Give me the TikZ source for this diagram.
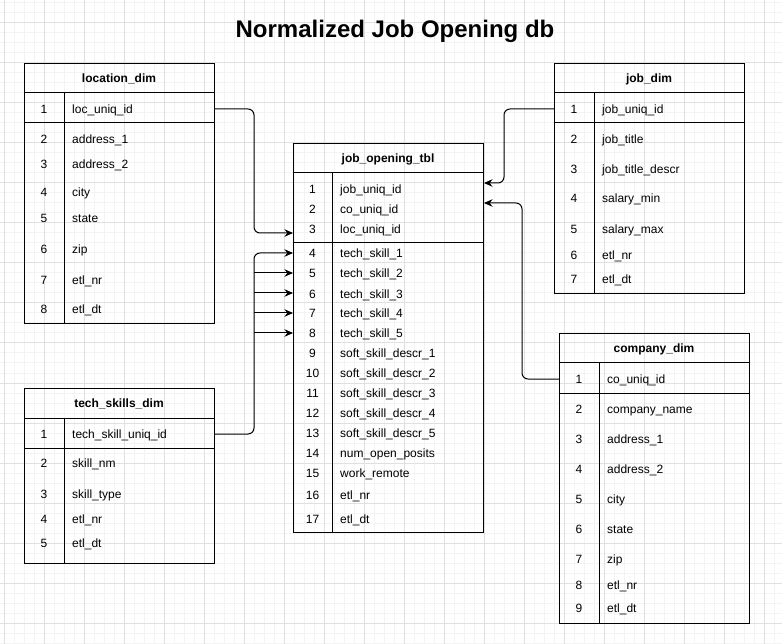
\documentclass[tikz,border=0pt]{standalone}
\usepackage{fontspec}
\setmainfont{Liberation Sans}
\usetikzlibrary{arrows.meta}
\definecolor{gridminor}{HTML}{F3F3F3}
\definecolor{gridmajor}{HTML}{E0E0E0}
\tikzset{
  tblframe/.style={draw=black, line width=1pt, inner sep=0pt, anchor=north west},
  tblline/.style={draw=black, line width=1pt},
  hdrtext/.style={font=\bfseries\fontsize{12}{14}\selectfont, inner sep=0pt, text height=8.6pt, text depth=0pt},
  numtext/.style={font=\fontsize{12}{14}\selectfont, inner sep=0pt, text height=8.6pt, text depth=0pt},
  fldtext/.style={numtext, anchor=west},
  conn/.style={draw=black, line width=1pt, rounded corners=6pt},
  arr/.style={-{Stealth[length=8.5pt,width=7.5pt]}},
  titletext/.style={font=\bfseries\fontsize{24}{28}\selectfont, inner sep=0pt, text height=17.2pt, text depth=0pt},
  gridmin/.style={draw=gridminor, line width=1pt},
  gridmaj/.style={draw=gridmajor, line width=1pt}
}
\begin{document}
\begin{tikzpicture}[x=1pt,y=-1pt]
\useasboundingbox (0,0) rectangle (782,644);
% grid
\foreach \x in {4,14,...,784} \draw[gridmin] (\x,0) -- (\x,644);
\foreach \y in {3,13,...,643} \draw[gridmin] (0,\y) -- (782,\y);
\foreach \x in {4,44,...,764} \draw[gridmaj] (\x,0) -- (\x,644);
\foreach \y in {23,63,...,623} \draw[gridmaj] (0,\y) -- (782,\y);

% title
\node[titletext] (title) at (395,29) {Normalized Job Opening db};

% location_dim
\node[tblframe, minimum width=190pt, minimum height=260pt] (loc) at (24,63) {};
\draw[tblline] (24,93) -- (214,93) (24,123) -- (214,123) (64,93) -- (64,323);
\node[hdrtext] (loc-h) at (119,78) {location\_dim};
\foreach \i/\y/\t in {1/109/loc\_uniq\_id, 2/139/address\_1, 3/164/address\_2, 4/192/city, 5/218/state, 6/249/zip, 7/280/etl\_nr, 8/309/etl\_dt} {
  \node[numtext] (loc-n\i) at (44,\y) {\i};
  \node[fldtext] (loc-f\i) at (72,\y) {\t};
}

% job_dim
\node[tblframe, minimum width=190pt, minimum height=230pt] (jd) at (554,63) {};
\draw[tblline] (554,93) -- (744,93) (554,123) -- (744,123) (594,93) -- (594,293);
\node[hdrtext] (jd-h) at (649,78) {job\_dim};
\foreach \i/\y/\t in {1/109/job\_uniq\_id, 2/139/job\_title, 3/169/job\_title\_descr, 4/198/salary\_min, 5/229/salary\_max, 6/255/etl\_nr, 7/279/etl\_dt} {
  \node[numtext] (jd-n\i) at (574,\y) {\i};
  \node[fldtext] (jd-f\i) at (602,\y) {\t};
}

% job_opening_tbl
\node[tblframe, minimum width=190pt, minimum height=389pt] (jo) at (293,143) {};
\draw[tblline] (293,173) -- (483,173) (293,243) -- (483,243) (332,173) -- (332,532);
\node[hdrtext] (jo-h) at (388,158) {job\_opening\_tbl};
\foreach \i/\y/\t in {1/189/job\_uniq\_id, 2/209/co\_uniq\_id, 3/229/loc\_uniq\_id, 4/253/tech\_skill\_1, 5/273/tech\_skill\_2, 6/294/tech\_skill\_3, 7/313/tech\_skill\_4, 8/333/tech\_skill\_5, 9/353/soft\_skill\_descr\_1, 10/373/soft\_skill\_descr\_2, 11/393/soft\_skill\_descr\_3, 12/413/soft\_skill\_descr\_4, 13/433/soft\_skill\_descr\_5, 14/453/num\_open\_posits, 15/473/work\_remote, 16/495/etl\_nr, 17/519/etl\_dt} {
  \node[numtext] (jo-n\i) at (312.5,\y) {\i};
  \node[fldtext] (jo-f\i) at (340,\y) {\t};
}

% tech_skills_dim
\node[tblframe, minimum width=190pt, minimum height=175pt] (ts) at (24,388) {};
\draw[tblline] (24,418) -- (214,418) (24,448) -- (214,448) (64,418) -- (64,563);
\node[hdrtext] (ts-h) at (119,403) {tech\_skills\_dim};
\foreach \i/\y/\t in {1/434/tech\_skill\_uniq\_id, 2/463/skill\_nm, 3/494/skill\_type, 4/519/etl\_nr, 5/543/etl\_dt} {
  \node[numtext] (ts-n\i) at (44,\y) {\i};
  \node[fldtext] (ts-f\i) at (72,\y) {\t};
}

% company_dim
\node[tblframe, minimum width=190pt, minimum height=290pt] (cd) at (559,333) {};
\draw[tblline] (559,363) -- (749,363) (559,393) -- (749,393) (599,363) -- (599,623);
\node[hdrtext] (cd-h) at (654,348) {company\_dim};
\foreach \i/\y/\t in {1/379/co\_uniq\_id, 2/409/company\_name, 3/439/address\_1, 4/469/address\_2, 5/499/city, 6/529/state, 7/559/zip, 8/585/etl\_nr, 9/608/etl\_dt} {
  \node[numtext] (cd-n\i) at (579,\y) {\i};
  \node[fldtext] (cd-f\i) at (607,\y) {\t};
}

% connector anchor points
\coordinate (lv) at (254,0);
\coordinate (rv1) at (504,0);
\coordinate (rv2) at (522,0);
\coordinate (jo-a3) at (293,233);
\coordinate (jo-a4) at (293,253);
\coordinate (jo-a5) at (293,273);
\coordinate (jo-a6) at (293,293);
\coordinate (jo-a7) at (293,313);
\coordinate (jo-a8) at (293,333);
\coordinate (jo-b1) at (484,183);
\coordinate (jo-b2) at (484,203);

% connectors
\draw[conn, arr] (loc.east |- loc-f1) -| (lv |- jo-a3) -- (jo-a3);
\draw[conn, arr] (ts.east |- ts-f1) -| (lv |- jo-a4) -- (jo-a4);
\foreach \k in {5,6,7,8} \draw[conn, arr] (lv |- jo-a\k) -- (jo-a\k);
\draw[conn, arr] (jd.west |- jd-f1) -| (rv1 |- jo-b1) -- (jo-b1);
\draw[conn, arr] (cd.west |- cd-f1) -| (rv2 |- jo-b2) -- (jo-b2);
\end{tikzpicture}
\end{document}
